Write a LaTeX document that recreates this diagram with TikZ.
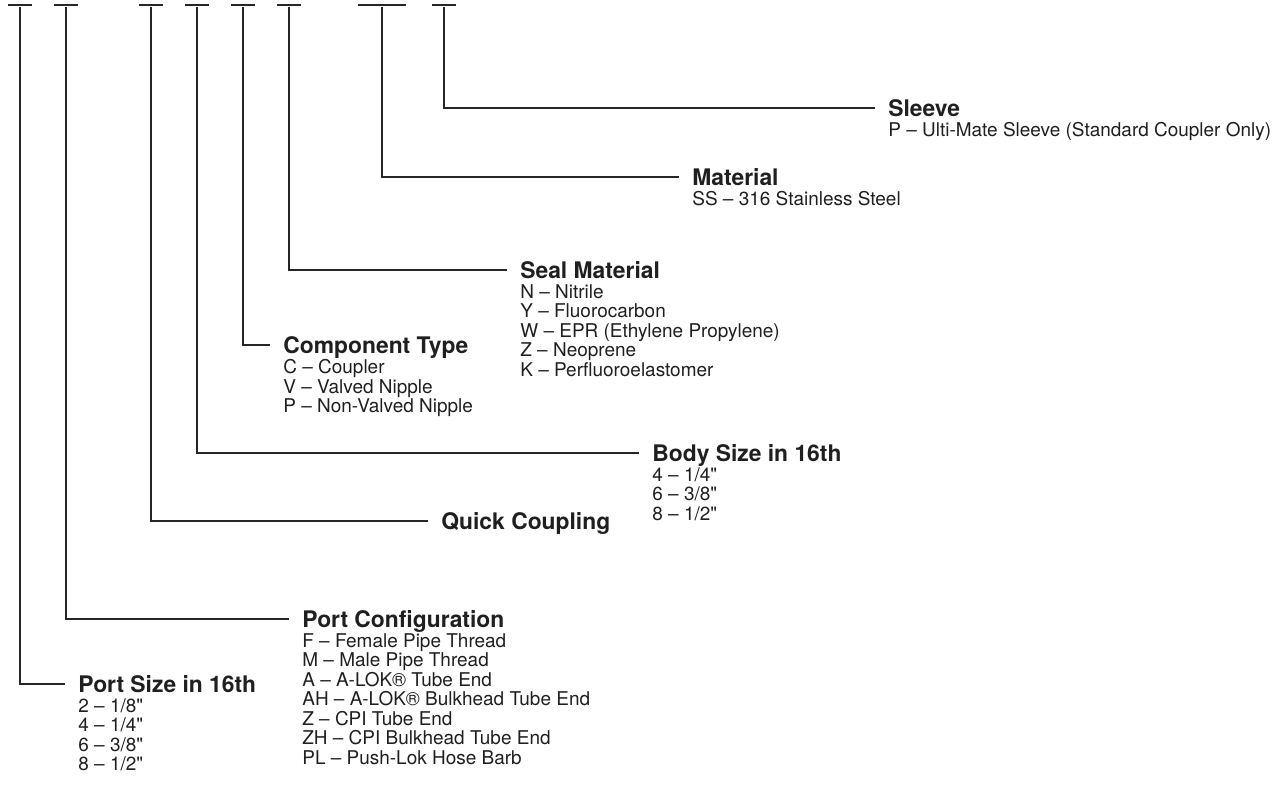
\documentclass[tikz,border=0pt]{standalone}
\usepackage{fontspec}
\setmainfont{TeX Gyre Heros}[Ligatures=TeXOff]
\usetikzlibrary{positioning}
\tikzset{
  slot/.style={
    rectangle, fill=black!85, inner sep=0pt,
    minimum width=13.6pt, minimum height=1.6pt
  },
  wideslot/.style={slot, minimum width=26.8pt},
  lead/.style={draw=black!85, line width=1pt, shorten >=7.4pt},
  fieldname/.style={
    inner sep=0pt, anchor=west, text height=9.3pt, text depth=0pt,
    text=black!88, font=\fontsize{13}{15}\selectfont\bfseries
  },
  options/.style={
    inner sep=0pt, align=left, text=black!88,
    font=\fontsize{10.8}{11.1}\selectfont
  }
}

\begin{document}
\begin{tikzpicture}[x=0.02cm, y=-0.02cm]
\useasboundingbox (0,0) rectangle (1285,791);

% slots of the part number
\node[slot] (tsize) at (20,5) {};
\node[slot] (tconf) at (66,5) {};
\node[slot] (tqc) at (151,5) {};
\node[slot] (tbody) at (197,5) {};
\node[slot] (ttype) at (243,5) {};
\node[slot] (tseal) at (289,5) {};
\node[wideslot] (tmat) at (382,5) {};
\node[slot] (tsleeve) at (444,5) {};

% fields
\node[fieldname] (sleeve) at (888,108) {Sleeve};
\node[options, below right=3.2pt and 0pt of sleeve.south west] (sleeveopt)
  {P – Ulti-Mate Sleeve (Standard Coupler Only)};

\node[fieldname] (mat) at (692,177) {Material};
\node[options, below right=3.2pt and 0pt of mat.south west] (matopt)
  {SS – 316 Stainless Steel};

\node[fieldname] (seal) at (520,270) {Seal Material};
\node[options, below right=3.2pt and 0pt of seal.south west] (sealopt)
  {N – Nitrile\\ Y – Fluorocarbon\\ W – EPR (Ethylene Propylene)\\
   Z – Neoprene\\ K – Perfluoroelastomer};

\node[fieldname] (type) at (283,345) {Component Type};
\node[options, below right=3.2pt and 0pt of type.south west] (typeopt)
  {C – Coupler\\ V – Valved Nipple\\ P – Non-Valved Nipple};

\node[fieldname] (body) at (652,453) {Body Size in 16th};
\node[options, below right=3.2pt and 0pt of body.south west] (bodyopt)
  {4 – 1/4"\\ 6 – 3/8"\\ 8 – 1/2"};

\node[fieldname] (qc) at (441,521) {Quick Coupling};

\node[fieldname] (conf) at (302,619) {Port Configuration};
\node[options, below right=3.2pt and 0pt of conf.south west] (confopt)
  {F – Female Pipe Thread\\ M – Male Pipe Thread\\ A – A-LOK® Tube End\\
   AH – A-LOK® Bulkhead Tube End\\ Z – CPI Tube End\\
   ZH – CPI Bulkhead Tube End\\ PL – Push-Lok Hose Barb};

\node[fieldname] (size) at (78,684) {Port Size in 16th};
\node[options, below right=3.2pt and 0pt of size.south west] (sizeopt)
  {2 – 1/8"\\ 4 – 1/4"\\ 6 – 3/8"\\ 8 – 1/2"};

% leaders from slots to fields
\draw[lead] (tsleeve.south) |- (sleeve);
\draw[lead] (tmat.south) |- (mat);
\draw[lead] (tseal.south) |- (seal);
\draw[lead] (ttype.south) |- (type);
\draw[lead] (tbody.south) |- (body);
\draw[lead] (tqc.south) |- (qc);
\draw[lead] (tconf.south) |- (conf);
\draw[lead] (tsize.south) |- (size);

\end{tikzpicture}
\end{document}
